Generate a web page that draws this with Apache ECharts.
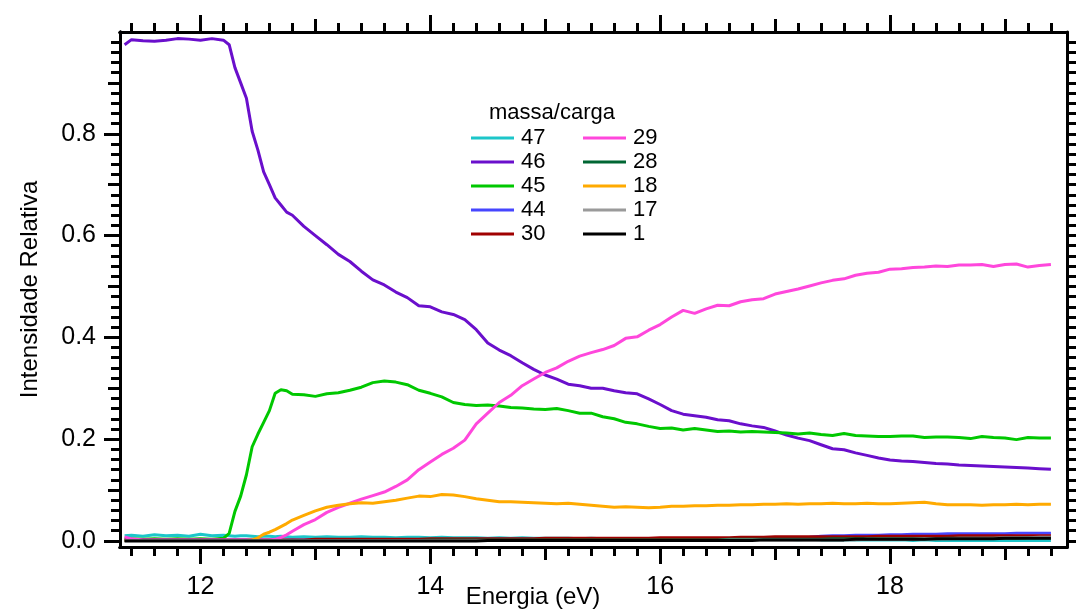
<!DOCTYPE html>
<html>
<head>
<meta charset="utf-8">
<script src="https://cdn.jsdelivr.net/npm/echarts@6/dist/echarts.min.js"></script>
<style>html,body{margin:0;padding:0;background:#fff}#c{width:1077px;height:610px}</style>
</head>
<body>
<div id="c"></div>
<script>
// ---- data ----
const energy = [
  11.34, 11.4, 11.5, 11.6, 11.7, 11.8, 11.9, 12.0, 12.1, 12.2,
  12.25, 12.3, 12.35, 12.4, 12.45, 12.5, 12.55, 12.6, 12.65, 12.7, 12.75, 12.8,
  12.9, 13.0, 13.1, 13.2, 13.3, 13.4, 13.5, 13.6, 13.7, 13.8, 13.9,
  14.0, 14.1, 14.2, 14.3, 14.4, 14.5, 14.6, 14.7, 14.8, 14.9,
  15.0, 15.1, 15.2, 15.3, 15.4, 15.5, 15.6, 15.7, 15.8, 15.9,
  16.0, 16.1, 16.2, 16.3, 16.4, 16.5, 16.6, 16.7, 16.8, 16.9,
  17.0, 17.1, 17.2, 17.3, 17.4, 17.5, 17.6, 17.7, 17.8, 17.9,
  18.0, 18.1, 18.2, 18.3, 18.4, 18.5, 18.6, 18.7, 18.8, 18.9,
  19.0, 19.1, 19.2, 19.3, 19.4
];
const m47 = [
  0.010, 0.011, 0.009, 0.012, 0.010, 0.011, 0.009, 0.013, 0.010, 0.011,
  0.010, 0.009, 0.010, 0.010, 0.009, 0.008, 0.009, 0.009, 0.008, 0.009, 0.008, 0.007,
  0.008, 0.007, 0.008, 0.007, 0.007, 0.008, 0.007, 0.007, 0.006, 0.007, 0.007,
  0.006, 0.007, 0.006, 0.006, 0.006, 0.005, 0.006, 0.005, 0.006, 0.005,
  0.005, 0.005, 0.005, 0.004, 0.005, 0.004, 0.004, 0.004, 0.004, 0.004,
  0.004, 0.004, 0.003, 0.004, 0.003, 0.003, 0.003, 0.003, 0.003, 0.003,
  0.003, 0.003, 0.002, 0.003, 0.002, 0.002, 0.002, 0.002, 0.002, 0.002,
  0.002, 0.002, 0.001, 0.002, 0.001, 0.001, 0.001, 0.001, 0.001, 0.001,
  0.001, 0.001, 0.001, 0.001, 0.001
];
const m46 = [
  0.975, 0.985, 0.983, 0.982, 0.984, 0.987, 0.986, 0.984, 0.987, 0.984,
  0.975, 0.930, 0.900, 0.870, 0.805, 0.768, 0.725, 0.700, 0.674, 0.660, 0.646, 0.640,
  0.618, 0.600, 0.582, 0.563, 0.549, 0.530, 0.513, 0.503, 0.489, 0.478, 0.462,
  0.460, 0.450, 0.445, 0.435, 0.415, 0.389, 0.375, 0.364, 0.350, 0.337,
  0.326, 0.318, 0.308, 0.305, 0.300, 0.300, 0.295, 0.291, 0.289, 0.279,
  0.268, 0.256, 0.249, 0.246, 0.243, 0.238, 0.236, 0.230, 0.226, 0.223,
  0.216, 0.208, 0.202, 0.197, 0.189, 0.181, 0.179, 0.173, 0.168, 0.163,
  0.159, 0.157, 0.156, 0.154, 0.152, 0.151, 0.149, 0.148, 0.147, 0.146,
  0.145, 0.144, 0.143, 0.142, 0.141
];
const m45 = [
  0.004, 0.004, 0.003, 0.004, 0.003, 0.004, 0.003, 0.004, 0.003, 0.005,
  0.015, 0.058, 0.088, 0.130, 0.185, 0.210, 0.233, 0.256, 0.290, 0.297, 0.295, 0.288,
  0.287, 0.284, 0.289, 0.291, 0.296, 0.302, 0.311, 0.314, 0.312, 0.307, 0.296,
  0.290, 0.283, 0.272, 0.268, 0.266, 0.267, 0.265, 0.262, 0.261, 0.259,
  0.258, 0.260, 0.256, 0.251, 0.251, 0.244, 0.240, 0.233, 0.230, 0.225,
  0.221, 0.222, 0.218, 0.221, 0.218, 0.215, 0.216, 0.214, 0.215, 0.214,
  0.213, 0.212, 0.210, 0.212, 0.209, 0.207, 0.211, 0.207, 0.206, 0.205,
  0.205, 0.206, 0.206, 0.203, 0.204, 0.204, 0.203, 0.201, 0.205, 0.203,
  0.202, 0.199, 0.203, 0.202, 0.202
];
const m44 = [
  0.002, 0.002, 0.002, 0.002, 0.002, 0.002, 0.002, 0.002, 0.002, 0.002,
  0.002, 0.002, 0.002, 0.002, 0.002, 0.002, 0.002, 0.002, 0.002, 0.002, 0.002, 0.002,
  0.002, 0.002, 0.002, 0.002, 0.002, 0.002, 0.002, 0.002, 0.002, 0.002, 0.002,
  0.002, 0.002, 0.002, 0.002, 0.003, 0.003, 0.003, 0.003, 0.003, 0.003,
  0.003, 0.003, 0.003, 0.003, 0.003, 0.003, 0.003, 0.003, 0.003, 0.003,
  0.004, 0.004, 0.004, 0.004, 0.004, 0.004, 0.004, 0.004, 0.004, 0.005,
  0.005, 0.005, 0.006, 0.007, 0.009, 0.010, 0.010, 0.011, 0.011, 0.011,
  0.012, 0.012, 0.013, 0.013, 0.013, 0.014, 0.014, 0.014, 0.014, 0.014,
  0.014, 0.015, 0.015, 0.015, 0.015
];
const m30 = [
  0.002, 0.002, 0.002, 0.002, 0.002, 0.002, 0.002, 0.002, 0.002, 0.002,
  0.002, 0.002, 0.002, 0.002, 0.002, 0.002, 0.002, 0.002, 0.002, 0.002, 0.002, 0.002,
  0.002, 0.003, 0.003, 0.003, 0.003, 0.003, 0.003, 0.003, 0.003, 0.003, 0.003,
  0.004, 0.004, 0.004, 0.004, 0.004, 0.004, 0.004, 0.004, 0.004, 0.004,
  0.005, 0.005, 0.005, 0.005, 0.005, 0.005, 0.005, 0.005, 0.005, 0.005,
  0.006, 0.006, 0.006, 0.006, 0.006, 0.006, 0.006, 0.007, 0.007, 0.007,
  0.008, 0.008, 0.008, 0.008, 0.008, 0.008, 0.008, 0.008, 0.008, 0.009,
  0.009, 0.009, 0.009, 0.009, 0.009, 0.009, 0.010, 0.010, 0.010, 0.010,
  0.010, 0.010, 0.010, 0.010, 0.010
];
const m29 = [
  0.008, 0.004, 0.002, 0.002, 0.002, 0.002, 0.002, 0.002, 0.002, 0.002,
  0.002, 0.002, 0.002, 0.002, 0.002, 0.002, 0.002, 0.002, 0.003, 0.007, 0.012, 0.019,
  0.032, 0.042, 0.056, 0.066, 0.074, 0.082, 0.089, 0.096, 0.107, 0.120, 0.140,
  0.155, 0.170, 0.182, 0.198, 0.230, 0.251, 0.272, 0.286, 0.305, 0.318,
  0.331, 0.340, 0.353, 0.363, 0.370, 0.376, 0.384, 0.398, 0.401, 0.414,
  0.425, 0.440, 0.453, 0.447, 0.456, 0.463, 0.462, 0.470, 0.474, 0.476,
  0.485, 0.490, 0.495, 0.501, 0.507, 0.512, 0.515, 0.522, 0.526, 0.528,
  0.534, 0.535, 0.537, 0.538, 0.540, 0.539, 0.542, 0.542, 0.543, 0.539,
  0.543, 0.544, 0.538, 0.541, 0.543
];
const m28 = [
  0.001, 0.001, 0.001, 0.001, 0.001, 0.001, 0.001, 0.001, 0.001, 0.001,
  0.001, 0.001, 0.001, 0.001, 0.001, 0.001, 0.001, 0.001, 0.001, 0.001, 0.001, 0.001,
  0.001, 0.001, 0.001, 0.001, 0.001, 0.001, 0.001, 0.001, 0.001, 0.001, 0.001,
  0.002, 0.002, 0.002, 0.002, 0.002, 0.002, 0.002, 0.002, 0.002, 0.002,
  0.002, 0.002, 0.002, 0.002, 0.002, 0.002, 0.002, 0.002, 0.002, 0.002,
  0.002, 0.002, 0.002, 0.002, 0.002, 0.002, 0.003, 0.003, 0.003, 0.003,
  0.003, 0.003, 0.003, 0.003, 0.003, 0.004, 0.004, 0.004, 0.004, 0.004,
  0.004, 0.004, 0.004, 0.004, 0.004, 0.005, 0.005, 0.005, 0.005, 0.005,
  0.005, 0.005, 0.006, 0.006, 0.006
];
const m18 = [
  0.001, 0.001, 0.001, 0.001, 0.001, 0.001, 0.001, 0.001, 0.001, 0.001,
  0.001, 0.001, 0.001, 0.001, 0.002, 0.006, 0.013, 0.017, 0.022, 0.028, 0.034, 0.041,
  0.050, 0.059, 0.066, 0.070, 0.073, 0.075, 0.074, 0.077, 0.080, 0.084, 0.088,
  0.087, 0.091, 0.090, 0.087, 0.083, 0.080, 0.077, 0.077, 0.076, 0.075,
  0.074, 0.073, 0.074, 0.072, 0.070, 0.068, 0.066, 0.067, 0.066, 0.065,
  0.066, 0.068, 0.068, 0.069, 0.069, 0.070, 0.070, 0.071, 0.071, 0.072,
  0.072, 0.073, 0.072, 0.073, 0.073, 0.074, 0.073, 0.073, 0.074, 0.073,
  0.073, 0.074, 0.075, 0.076, 0.073, 0.071, 0.071, 0.071, 0.070, 0.071,
  0.071, 0.072, 0.071, 0.072, 0.072
];
const m17 = [
  0.001, 0.001, 0.001, 0.001, 0.001, 0.001, 0.001, 0.001, 0.001, 0.001,
  0.001, 0.001, 0.001, 0.001, 0.001, 0.001, 0.001, 0.001, 0.001, 0.001, 0.001, 0.001,
  0.001, 0.001, 0.001, 0.001, 0.001, 0.001, 0.001, 0.001, 0.001, 0.001, 0.001,
  0.001, 0.001, 0.001, 0.001, 0.001, 0.001, 0.001, 0.001, 0.001, 0.001,
  0.001, 0.001, 0.001, 0.001, 0.001, 0.001, 0.001, 0.001, 0.001, 0.001,
  0.001, 0.001, 0.001, 0.001, 0.001, 0.001, 0.002, 0.002, 0.002, 0.002,
  0.002, 0.002, 0.002, 0.002, 0.002, 0.002, 0.002, 0.002, 0.003, 0.003,
  0.003, 0.003, 0.003, 0.004, 0.004, 0.004, 0.005, 0.005, 0.005, 0.005,
  0.006, 0.006, 0.006, 0.007, 0.007
];
const m1 = [
  0.000, 0.000, 0.000, 0.000, 0.000, 0.000, 0.000, 0.000, 0.000, 0.000,
  0.000, 0.000, 0.000, 0.000, 0.000, 0.000, 0.000, 0.000, 0.000, 0.000, 0.000, 0.000,
  0.000, 0.000, 0.000, 0.000, 0.000, 0.000, 0.000, 0.000, 0.000, 0.000, 0.000,
  0.000, 0.000, 0.000, 0.000, 0.000, 0.001, 0.001, 0.001, 0.001, 0.001,
  0.001, 0.001, 0.001, 0.001, 0.001, 0.001, 0.001, 0.001, 0.001, 0.001,
  0.001, 0.001, 0.001, 0.001, 0.001, 0.001, 0.001, 0.001, 0.001, 0.002,
  0.002, 0.002, 0.002, 0.002, 0.002, 0.002, 0.002, 0.003, 0.003, 0.003,
  0.003, 0.003, 0.003, 0.003, 0.004, 0.004, 0.004, 0.004, 0.004, 0.004,
  0.005, 0.005, 0.005, 0.005, 0.005
];
const seriesNames = ['47', '46', '45', '44', '30', '29', '28', '18', '17', '1'];
const seriesValues = [m47, m46, m45, m44, m30, m29, m28, m18, m17, m1];
const seriesColors = ['#1cc6c9', '#6a0fcc', '#00c800', '#4646ff', '#a00000',
                      '#ff47dc', '#006633', '#ffaa00', '#9a9a9a', '#000000'];
const legendCol1 = ['47', '46', '45', '44', '30'];
const legendCol2 = ['29', '28', '18', '17', '1'];
const legendTitle = 'massa/carga';
const xName = 'Energia (eV)';
const yName = 'Intensidade Relativa';

// ---- axis ticks ----
const xMajor = [12, 14, 16, 18];
const xMedium = [13, 15, 17, 19];
const xMinor = [];
for (let k = 57; k <= 97; k++) xMinor.push(Math.round(k * 2) / 10);
const yMajor = [0, 0.2, 0.4, 0.6, 0.8];
const yMedium = [0.1, 0.3, 0.5, 0.7, 0.9];
const yMinor = [];
for (let k = 0; k <= 49; k++) yMinor.push(Math.round(k * 2) / 100);

const X_MIN = 11.3, X_MAX = 19.54, Y_MIN = -0.012, Y_MAX = 1.0;
const FONT = "'Liberation Sans', Arial, Helvetica, sans-serif";

function xAx(pos, ticks, len, extra) {
  return Object.assign({
    type: 'value', position: pos, min: X_MIN, max: X_MAX,
    splitLine: { show: false },
    axisLine: { show: true, onZero: false, lineStyle: { color: '#000', width: 3 } },
    axisTick: { show: true, inside: false, customValues: ticks, length: len, lineStyle: { color: '#000', width: 3 } },
    axisLabel: { show: false }
  }, extra || {});
}
function yAx(pos, ticks, len, extra) {
  return Object.assign({
    type: 'value', position: pos, min: Y_MIN, max: Y_MAX,
    splitLine: { show: false },
    axisLine: { show: true, onZero: false, lineStyle: { color: '#000', width: 3 } },
    axisTick: { show: true, inside: false, customValues: ticks, length: len, lineStyle: { color: '#000', width: 3 } },
    axisLabel: { show: false }
  }, extra || {});
}

const chart = echarts.init(document.getElementById('c'), null, { renderer: 'canvas' });
chart.setOption({
  animation: false,
  backgroundColor: '#fff',
  textStyle: { fontFamily: FONT },
  grid: { left: 120, right: 10, top: 32, bottom: 63, containLabel: false, outerBoundsMode: 'none' },
  title: {
    text: legendTitle, left: 484, top: 97,
    textStyle: { fontSize: 22, fontWeight: 'normal', color: '#000', fontFamily: FONT }
  },
  legend: [
    { orient: 'vertical', left: 471, top: 127, padding: 0, itemWidth: 43, itemHeight: 3, itemGap: 2, icon: 'rect',
      data: legendCol1, textStyle: { fontSize: 22, color: '#000', fontFamily: FONT, padding: [0, 0, 0, 2] } },
    { orient: 'vertical', left: 583, top: 127, padding: 0, itemWidth: 43, itemHeight: 3, itemGap: 2, icon: 'rect',
      data: legendCol2, textStyle: { fontSize: 22, color: '#000', fontFamily: FONT, padding: [0, 0, 0, 2] } }
  ],
  xAxis: [
    xAx('bottom', xMajor, 17, {
      name: xName, nameLocation: 'middle', nameGap: 38, nameMoveOverlap: false,
      nameTextStyle: { fontSize: 24, color: '#000', fontFamily: FONT, padding: [0, 121, 0, 0] },
      axisLabel: { show: true, customValues: xMajor, fontSize: 25, color: '#000', margin: 28, fontFamily: FONT }
    }),
    xAx('bottom', xMedium, 13),
    xAx('bottom', xMinor, 9),
    xAx('top', xMajor, 17),
    xAx('top', xMedium, 13),
    xAx('top', xMinor, 9)
  ],
  yAxis: [
    yAx('left', yMajor, 16, {
      name: yName, nameLocation: 'middle', nameGap: 78, nameMoveOverlap: false,
      nameTextStyle: { fontSize: 24, color: '#000', fontFamily: FONT },
      axisLabel: { show: true, customValues: yMajor, fontSize: 25, color: '#000', margin: 24, fontFamily: FONT,
                   formatter: v => v.toFixed(1) }
    }),
    yAx('left', yMedium, 12),
    yAx('left', yMinor, 9),
    yAx('right', yMinor, 9)
  ],
  series: seriesNames.map((n, i) => ({
    name: n, type: 'line', xAxisIndex: 0, yAxisIndex: 0,
    showSymbol: false, symbol: 'none', smooth: false,
    color: seriesColors[i],
    lineStyle: { width: 3, color: seriesColors[i] },
    data: energy.map((e, j) => [e, seriesValues[i][j]])
  }))
});
</script>
</body>
</html>
